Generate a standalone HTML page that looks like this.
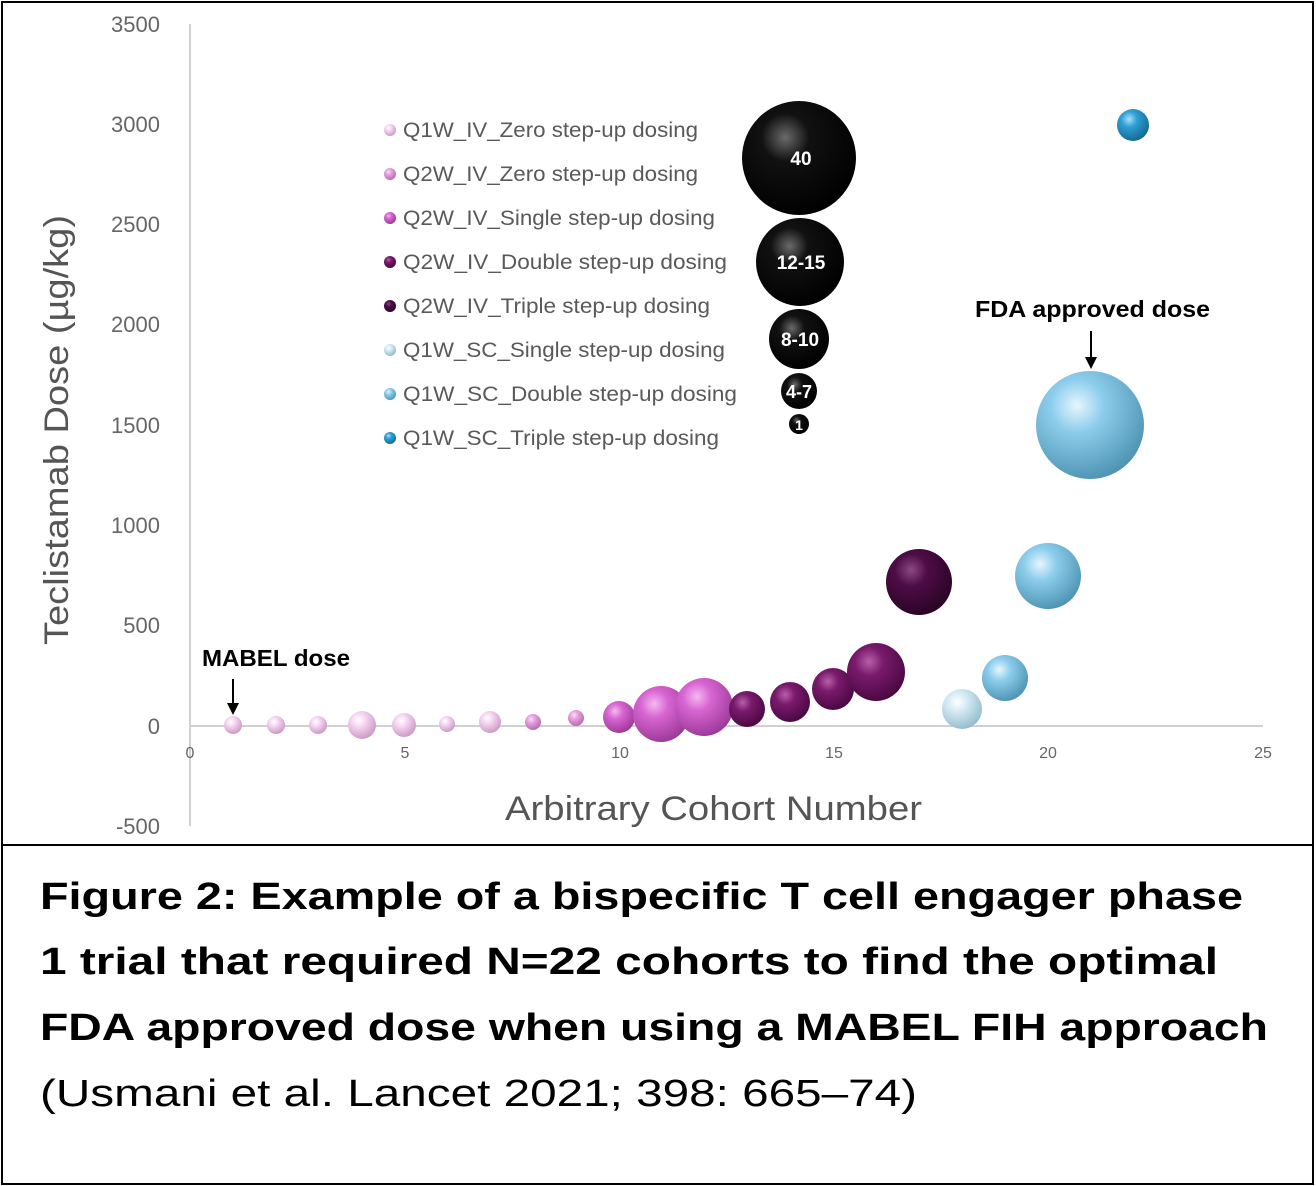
<!DOCTYPE html>
<html><head><meta charset="utf-8"><style>
html,body{margin:0;padding:0;background:#fff;}
svg{display:block;font-family:"Liberation Sans",sans-serif;}
</style></head><body>
<svg width="1316" height="1186" viewBox="0 0 1316 1186" xmlns="http://www.w3.org/2000/svg">
<defs>
<radialGradient id="g1" cx="0.38" cy="0.32" r="0.7"><stop offset="0" stop-color="#ffffff"/><stop offset="0.35" stop-color="#f6d6f2"/><stop offset="1" stop-color="#c99ac4"/></radialGradient>
<radialGradient id="g2" cx="0.38" cy="0.32" r="0.7"><stop offset="0" stop-color="#fbe0f8"/><stop offset="0.35" stop-color="#e7a2e0"/><stop offset="1" stop-color="#b56aae"/></radialGradient>
<radialGradient id="g3" cx="0.38" cy="0.32" r="0.7"><stop offset="0" stop-color="#f5b8f0"/><stop offset="0.35" stop-color="#d865d2"/><stop offset="1" stop-color="#9c3a98"/></radialGradient>
<radialGradient id="g4" cx="0.38" cy="0.32" r="0.7"><stop offset="0" stop-color="#b860a8"/><stop offset="0.35" stop-color="#7a1a6c"/><stop offset="1" stop-color="#4a0842"/></radialGradient>
<radialGradient id="g5" cx="0.38" cy="0.32" r="0.7"><stop offset="0" stop-color="#8a4a80"/><stop offset="0.35" stop-color="#4e0c46"/><stop offset="1" stop-color="#2a0424"/></radialGradient>
<radialGradient id="g6" cx="0.38" cy="0.32" r="0.7"><stop offset="0" stop-color="#ffffff"/><stop offset="0.35" stop-color="#d4ebf4"/><stop offset="1" stop-color="#94bccc"/></radialGradient>
<radialGradient id="g7" cx="0.38" cy="0.32" r="0.7"><stop offset="0" stop-color="#e6f6fe"/><stop offset="0.35" stop-color="#8dcdec"/><stop offset="1" stop-color="#4f94b4"/></radialGradient>
<radialGradient id="g8" cx="0.38" cy="0.32" r="0.7"><stop offset="0" stop-color="#a8e0fa"/><stop offset="0.35" stop-color="#2f9fd4"/><stop offset="1" stop-color="#15698f"/></radialGradient>
<radialGradient id="gk" cx="0.38" cy="0.32" r="0.7"><stop offset="0" stop-color="#6a6a6a"/><stop offset="0.3" stop-color="#111"/><stop offset="1" stop-color="#000"/></radialGradient>
</defs>
<rect x="2" y="2" width="1311" height="843" fill="#fff" stroke="#000" stroke-width="2"/>
<rect x="2" y="845" width="1311" height="339" fill="#fff" stroke="#000" stroke-width="2"/>
<line x1="190" y1="24" x2="190" y2="826" stroke="#d0d0d0" stroke-width="2"/>
<line x1="190" y1="726" x2="1263" y2="726" stroke="#d0d0d0" stroke-width="2"/>
<g font-size="22" fill="#666" text-anchor="end">
<text x="160" y="32">3500</text><text x="160" y="132">3000</text><text x="160" y="232">2500</text><text x="160" y="332">2000</text><text x="160" y="433">1500</text><text x="160" y="533">1000</text><text x="160" y="633">500</text><text x="160" y="734">0</text><text x="160" y="834">-500</text>
</g>
<g font-size="16" fill="#666" text-anchor="middle">
<text x="190" y="758">0</text><text x="405" y="758">5</text><text x="620" y="758">10</text><text x="834" y="758">15</text><text x="1048" y="758">20</text><text x="1263" y="758">25</text>
</g>
<text x="505" y="820" font-size="34" fill="#555" textLength="417" lengthAdjust="spacingAndGlyphs">Arbitrary Cohort Number</text>
<text transform="translate(68,645) rotate(-90)" font-size="34" fill="#555" textLength="430" lengthAdjust="spacingAndGlyphs">Teclistamab Dose (µg/kg)</text>
<circle cx="233" cy="725" r="9" fill="url(#g1)"/>
<circle cx="276" cy="725" r="9" fill="url(#g1)"/>
<circle cx="318" cy="725" r="9" fill="url(#g1)"/>
<circle cx="362" cy="725" r="14" fill="url(#g1)"/>
<circle cx="404" cy="725" r="12" fill="url(#g1)"/>
<circle cx="447" cy="724" r="8" fill="url(#g1)"/>
<circle cx="490" cy="722" r="11" fill="url(#g1)"/>
<circle cx="533" cy="722" r="8" fill="url(#g2)"/>
<circle cx="576" cy="718" r="8" fill="url(#g2)"/>
<circle cx="619" cy="717" r="16" fill="url(#g3)"/>
<circle cx="661" cy="714" r="28" fill="url(#g3)"/>
<circle cx="704" cy="707" r="29" fill="url(#g3)"/>
<circle cx="747" cy="709" r="18" fill="url(#g4)"/>
<circle cx="790" cy="702" r="20" fill="url(#g4)"/>
<circle cx="833" cy="689" r="21" fill="url(#g4)"/>
<circle cx="876" cy="672" r="29" fill="url(#g4)"/>
<circle cx="919" cy="582" r="33" fill="url(#g5)"/>
<circle cx="962" cy="709" r="20" fill="url(#g6)"/>
<circle cx="1005" cy="678" r="23" fill="url(#g7)"/>
<circle cx="1048" cy="576" r="33" fill="url(#g7)"/>
<circle cx="1090" cy="425" r="54" fill="url(#g7)"/>
<circle cx="1133" cy="125" r="16" fill="url(#g8)"/>
<text x="202" y="666" font-size="23" font-weight="bold" fill="#000" textLength="148" lengthAdjust="spacingAndGlyphs">MABEL dose</text>
<line x1="233" y1="679" x2="233" y2="706" stroke="#000" stroke-width="2"/>
<polygon points="227,703 239,703 233,715" fill="#000"/>
<text x="975" y="317" font-size="23" font-weight="bold" fill="#000" textLength="235" lengthAdjust="spacingAndGlyphs">FDA approved dose</text>
<line x1="1091" y1="331" x2="1091" y2="360" stroke="#000" stroke-width="2"/>
<polygon points="1085,357 1097,357 1091,369" fill="#000"/>
<g font-size="21" fill="#595959" lengthAdjust="spacingAndGlyphs">
<circle cx="390" cy="130" r="6" fill="url(#g1)"/><text x="403" y="137" textLength="295" lengthAdjust="spacingAndGlyphs">Q1W_IV_Zero step-up dosing</text>
<circle cx="390" cy="174" r="6" fill="url(#g2)"/><text x="403" y="181" textLength="295" lengthAdjust="spacingAndGlyphs">Q2W_IV_Zero step-up dosing</text>
<circle cx="390" cy="218" r="6" fill="url(#g3)"/><text x="403" y="225" textLength="312" lengthAdjust="spacingAndGlyphs">Q2W_IV_Single step-up dosing</text>
<circle cx="390" cy="262" r="6" fill="url(#g4)"/><text x="403" y="269" textLength="324" lengthAdjust="spacingAndGlyphs">Q2W_IV_Double step-up dosing</text>
<circle cx="390" cy="306" r="6" fill="url(#g5)"/><text x="403" y="313" textLength="307" lengthAdjust="spacingAndGlyphs">Q2W_IV_Triple step-up dosing</text>
<circle cx="390" cy="350" r="6" fill="url(#g6)"/><text x="403" y="357" textLength="322" lengthAdjust="spacingAndGlyphs">Q1W_SC_Single step-up dosing</text>
<circle cx="390" cy="394" r="6" fill="url(#g7)"/><text x="403" y="401" textLength="334" lengthAdjust="spacingAndGlyphs">Q1W_SC_Double step-up dosing</text>
<circle cx="390" cy="438" r="6" fill="url(#g8)"/><text x="403" y="445" textLength="316" lengthAdjust="spacingAndGlyphs">Q1W_SC_Triple step-up dosing</text>
</g>
<g font-weight="bold" fill="#fff" text-anchor="middle">
<circle cx="799" cy="158" r="57" fill="url(#gk)"/><text x="801" y="165" font-size="19">40</text>
<circle cx="800" cy="262" r="44" fill="url(#gk)"/><text x="801" y="269" font-size="19">12-15</text>
<circle cx="799" cy="339" r="30" fill="url(#gk)"/><text x="800" y="346" font-size="19">8-10</text>
<circle cx="799" cy="391" r="18" fill="url(#gk)"/><text x="799" y="398" font-size="18">4-7</text>
<circle cx="799" cy="424" r="10" fill="url(#gk)"/><text x="799" y="430" font-size="14">1</text>
</g>
<g font-size="38" fill="#000">
<text x="40" y="909" font-weight="bold" textLength="1203" lengthAdjust="spacingAndGlyphs">Figure 2: Example of a bispecific T cell engager phase</text>
<text x="40" y="974" font-weight="bold" textLength="1178" lengthAdjust="spacingAndGlyphs">1 trial that required N=22 cohorts to find the optimal</text>
<text x="40" y="1040" font-weight="bold" textLength="1228" lengthAdjust="spacingAndGlyphs">FDA approved dose when using a MABEL FIH approach</text>
<text x="40" y="1106" textLength="877" lengthAdjust="spacingAndGlyphs">(Usmani et al. Lancet 2021; 398: 665–74)</text>
</g>
</svg>
</body></html>
